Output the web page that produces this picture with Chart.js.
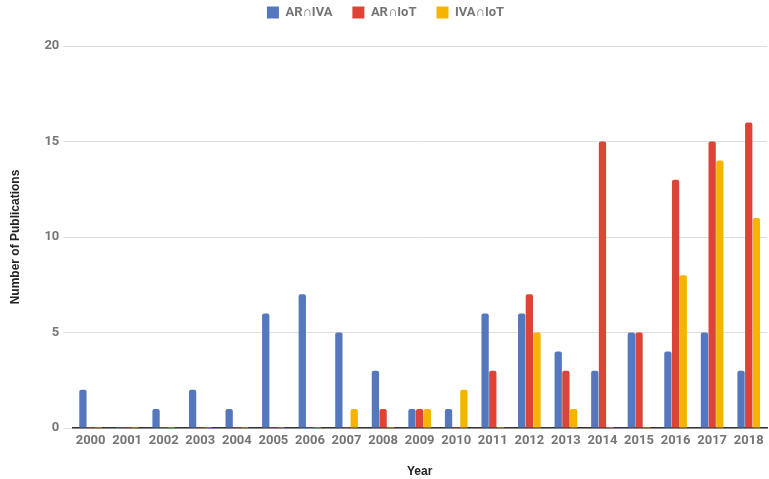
<!DOCTYPE html>
<html>
<head>
<meta charset="utf-8">
<script src="https://cdn.jsdelivr.net/npm/chart.js@4/dist/chart.umd.min.js"></script>
<style>
  html, body { margin: 0; padding: 0; background: #fff; }
  #wrap { width: 769px; height: 479px; }
</style>
</head>
<body>
<div id="wrap"><canvas id="c"></canvas></div>
<script>
const years = ["2000","2001","2002","2003","2004","2005","2006","2007","2008","2009",
               "2010","2011","2012","2013","2014","2015","2016","2017","2018"];
const arIva  = [2,0,1,2,1,6,7,5,3,1,1,6,6,4,3,5,4,5,3];
const arIot  = [0,0,0,0,0,0,0,0,1,1,0,3,7,3,15,5,13,15,16];
const ivaIot = [0,0,0,0,0,0,0,1,0,1,2,0,5,1,0,0,8,14,11];
const yTicks = [0, 5, 10, 15, 20];

const tickFont = { family: "Roboto", size: 13, weight: "bold" };
const titleFont = { family: "Liberation Sans, Arial, sans-serif", size: 12, weight: "bold" };

function ds(label, data, color) {
  return {
    label, data,
    backgroundColor: color,
    borderRadius: { topLeft: 2, topRight: 2 },
    borderSkipped: "bottom",
    minBarLength: 1,
    barPercentage: 0.95,
    categoryPercentage: 0.63
  };
}

// push the legend up while keeping the plot top where it was
const legendGap = {
  id: "legendGap",
  beforeInit(chart) {
    const fit = chart.legend.fit;
    chart.legend.fit = function () {
      fit.bind(chart.legend)();
      this.height += 17;
    };
  }
};

new Chart(document.getElementById("c").getContext("2d"), {
  type: "bar",
  data: {
    labels: years,
    datasets: [
      ds("AR∩IVA", arIva, "#5577bd"),
      ds("AR∩IoT", arIot, "#db4437"),
      ds("IVA∩IoT", ivaIot, "#f4b400")
    ]
  },
  options: {
    responsive: true,
    maintainAspectRatio: false,
    animation: false,
    layout: { padding: { top: -14, right: 2, left: 4, bottom: 0 } },
    plugins: {
      legend: {
        position: "top",
        labels: {
          boxWidth: 12, boxHeight: 12, padding: 20,
          color: "#757575",
          font: { family: "Roboto", size: 13, weight: "bold" }
        }
      },
      tooltip: { enabled: false }
    },
    scales: {
      x: {
        grid: { display: false, drawTicks: false },
        border: { display: true, color: "#333", width: 1.5 },
        ticks: { color: "#757575", font: tickFont, padding: 5, maxRotation: 0, autoSkip: false },
        title: { display: true, text: "Year", color: "#222", font: titleFont, padding: { top: 11, bottom: 0 } }
      },
      y: {
        min: 0, max: 20,
        afterBuildTicks: axis => { axis.ticks = yTicks.map(v => ({ value: v })); },
        grid: { color: "#dedede", drawTicks: true, tickLength: 9, tickColor: "#dedede" },
        border: { display: false },
        ticks: { color: "#757575", font: tickFont, padding: 4 },
        title: { display: true, text: "Number of Publications", color: "#222", font: titleFont, padding: { bottom: 18 } }
      }
    }
  },
  plugins: [legendGap]
});
</script>
</body>
</html>
